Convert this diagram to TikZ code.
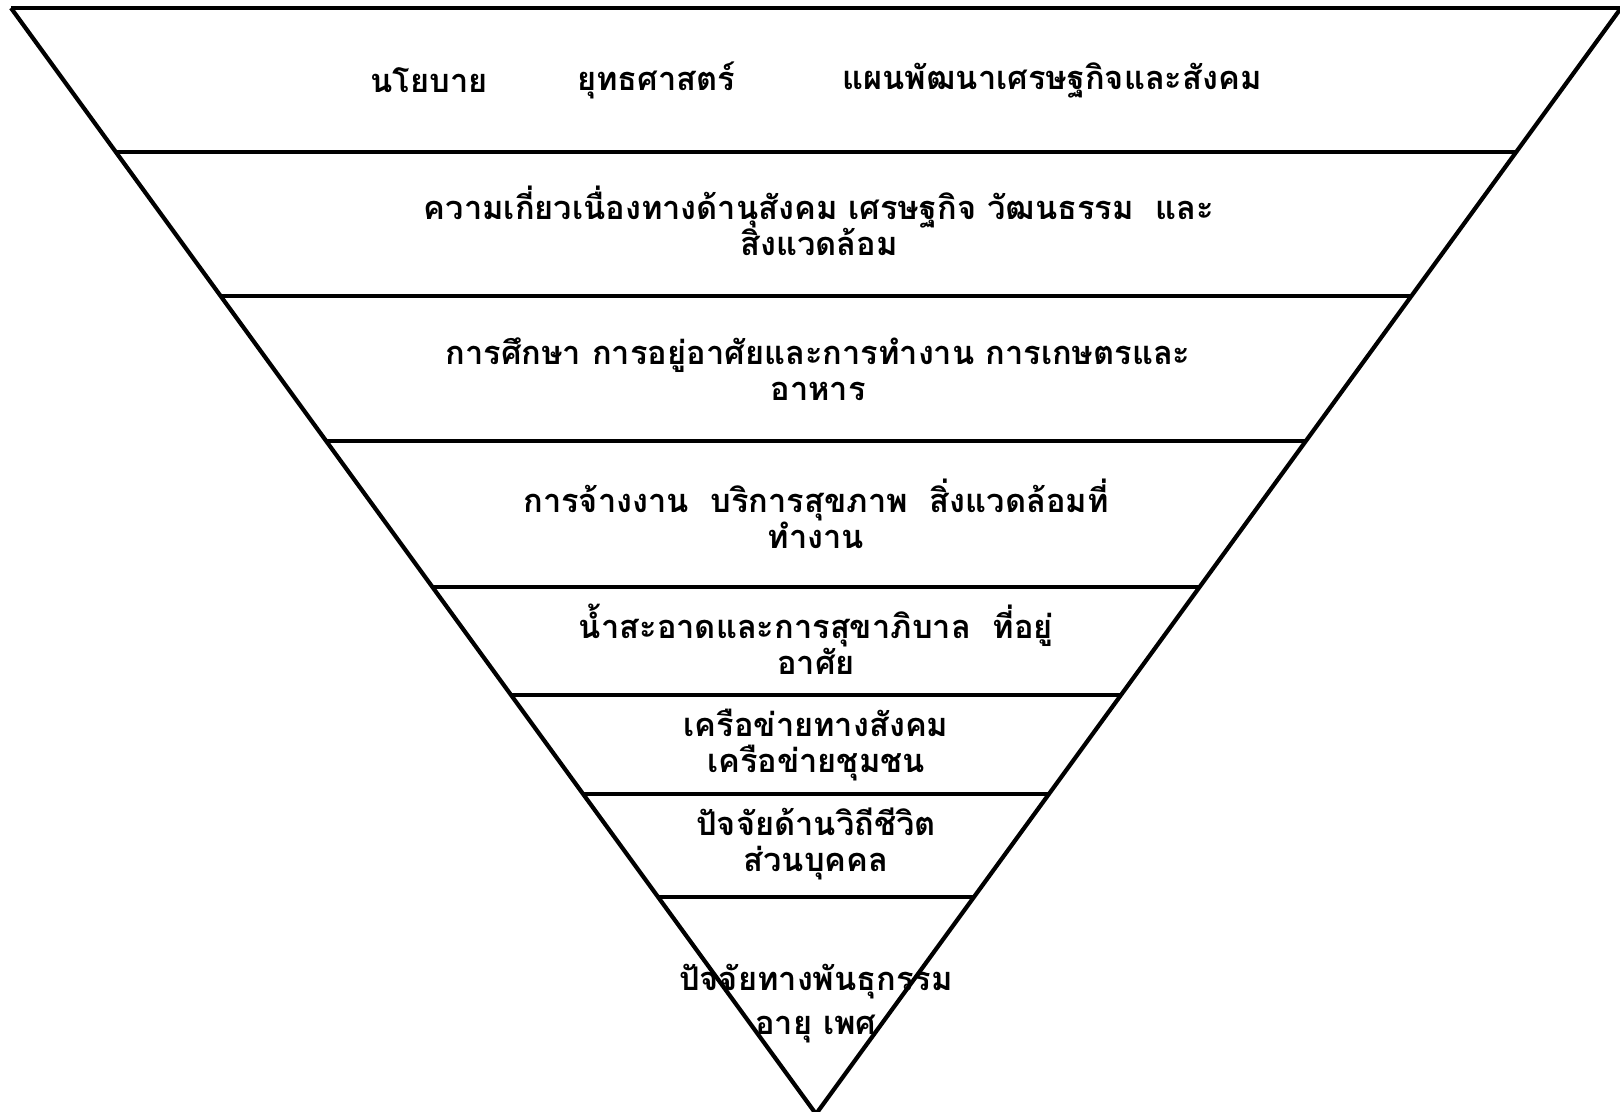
\documentclass[tikz,border=0pt]{standalone}
\usepackage{fontspec}
\newfontfamily\thaifont[Script=Thai]{Loma}
\usetikzlibrary{calc}
\tikzset{
  edge/.style={line width=2.1pt, line join=miter},
  layer/.style={line width=2.1pt},
  lbl/.style={font=\thaifont\bfseries\fontsize{16.3}{18}\selectfont, align=center, inner sep=0pt, text=black},
}
\newcommand{\layerline}[2]{%
  \coordinate (#1L) at ($(A)!{(#2-8)/1106}!(C)$);
  \coordinate (#1R) at ($(B)!{(#2-8)/1106}!(C)$);
  \draw[layer] (#1L) -- (#1R);}
\begin{document}
\begin{tikzpicture}[x=0.5pt,y=-0.5pt]
\useasboundingbox (0,0) rectangle (1620,1112);
\coordinate (A) at (11,8);
\coordinate (B) at (1621,8);
\coordinate (C) at (816,1114);
\draw[edge] (A) -- (B);
\draw[edge] (A) -- (C) -- (B);
\layerline{l1}{152}
\layerline{l2}{296}
\layerline{l3}{441}
\layerline{l4}{587}
\layerline{l5}{695}
\layerline{l6}{794}
\layerline{l7}{897}
% layer 1
\node[lbl, anchor=west] (t1a) at (370,80) {นโยบาย};
\node[lbl, anchor=west] (t1b) at (577,80) {ยุทธศาสตร์};
\node[lbl, anchor=west] (t1c) at (842,80) {แผนพัฒนาเศรษฐกิจและสังคม};
% layer 2
\node[lbl] (t2) at (819,221) {ความเกี่ยวเนื่องทางด้านุสังคม เศรษฐกิจ วัฒนธรรม\ \ และ\\สิงแวดล้อม};
% layer 3
\node[lbl] (t3) at (818,369) {การศึกษา การอยู่อาศัยและการทำงาน การเกษตรและ\\อาหาร};
% layer 4
\node[lbl] (t4) at (816,514) {การจ้างงาน\ \ บริการสุขภาพ\ \ สิ่งแวดล้อมที่\\ทำงาน};
% layer 5
\node[lbl] (t5) at (816,639) {น้ำสะอาดและการสุขาภิบาล\ \ ที่อยู่\\อาศัย};
% layer 6
\node[lbl] (t6) at (816,745) {เครือข่ายทางสังคม\\เครือข่ายชุมชน};
% layer 7
\node[lbl] (t7) at (816,844) {ปัจจัยด้านวิถีชีวิต\\ส่วนบุคคล};
% layer 8
\node[lbl, font=\thaifont\bfseries\fontsize{16.3}{22}\selectfont] (t8) at (816,1004) {ปัจจัยทางพันธุกรรม\\อายุ เพศ};
\end{tikzpicture}
\end{document}
